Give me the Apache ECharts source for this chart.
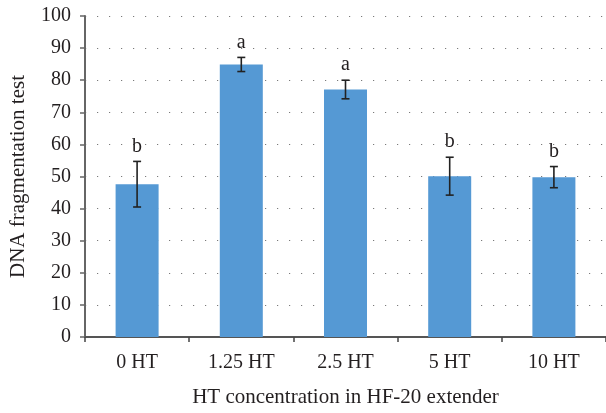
<!DOCTYPE html>
<html>
<head>
<meta charset="utf-8">
<script src="https://cdn.jsdelivr.net/npm/echarts@6/dist/echarts.min.js"></script>
<style>html,body{margin:0;padding:0;background:#fff}#c{width:606px;height:413px}</style>
</head>
<body>
<div id="c"></div>
<script>
var categories = ['0 HT', '1.25 HT', '2.5 HT', '5 HT', '10 HT'];
var means = [47.6, 84.9, 77.1, 50.1, 49.8];
var errors = [7.1, 2.2, 2.9, 5.9, 3.3];
var letters = ['b', 'a', 'a', 'b', 'b'];
var yTicks = [0, 10, 20, 30, 40, 50, 60, 70, 80, 90, 100];

var FONT = '"Liberation Serif", "Times New Roman", serif';
var chart = echarts.init(document.getElementById('c'), null, {renderer: 'canvas'});
var errData = means.map(function (m, i) { return [i, m - errors[i], m + errors[i], letters[i]]; });

chart.setOption({
  animation: false,
  grid: {left: 85, top: 16, bottom: 75, width: 523, containLabel: false},
  xAxis: {
    type: 'category',
    data: categories,
    name: 'HT concentration in HF-20 extender',
    nameLocation: 'middle',
    nameGap: 50,
    nameTextStyle: {fontFamily: FONT, fontSize: 21, color: '#231f20'},
    axisLine: {lineStyle: {color: '#555', width: 2}},
    axisTick: {show: true, length: 5, alignWithLabel: false, lineStyle: {color: '#444', width: 1.5}},
    axisLabel: {fontFamily: FONT, fontSize: 20, color: '#231f20', margin: 16}
  },
  yAxis: {
    type: 'value',
    min: yTicks[0],
    max: yTicks[yTicks.length - 1],
    interval: 10,
    name: 'DNA fragmentation test',
    nameLocation: 'middle',
    nameGap: 56,
    nameTextStyle: {fontFamily: FONT, fontSize: 21, color: '#231f20'},
    axisLine: {show: true, lineStyle: {color: '#666', width: 2}},
    axisTick: {show: true, length: 5, lineStyle: {color: '#666', width: 1.5}},
    axisLabel: {fontFamily: FONT, fontSize: 20, color: '#231f20', margin: 14},
    splitLine: {show: true, lineStyle: {color: '#7a7a7a', width: 1, type: [1.2, 10.8]}}
  },
  series: [
    {
      type: 'bar',
      data: means,
      barWidth: 43,
      itemStyle: {color: '#5599d4'}
    },
    {
      type: 'custom',
      data: errData,
      z: 10,
      renderItem: function (params, api) {
        var x = api.value(0);
        var lo = api.coord([x, api.value(1)]);
        var hi = api.coord([x, api.value(2)]);
        var hw = 4;
        var style = {stroke: '#222', lineWidth: 1.6};
        return {
          type: 'group',
          children: [
            {type: 'line', shape: {x1: lo[0], y1: lo[1], x2: hi[0], y2: hi[1]}, style: style},
            {type: 'line', shape: {x1: lo[0] - hw, y1: lo[1], x2: lo[0] + hw, y2: lo[1]}, style: style},
            {type: 'line', shape: {x1: hi[0] - hw, y1: hi[1], x2: hi[0] + hw, y2: hi[1]}, style: style},
            {type: 'text', style: {text: letters[params.dataIndex], x: hi[0], y: hi[1] - 5,
              textAlign: 'center', textVerticalAlign: 'bottom', font: '20px ' + FONT, fill: '#231f20'}}
          ]
        };
      }
    }
  ]
});
</script>
</body>
</html>
